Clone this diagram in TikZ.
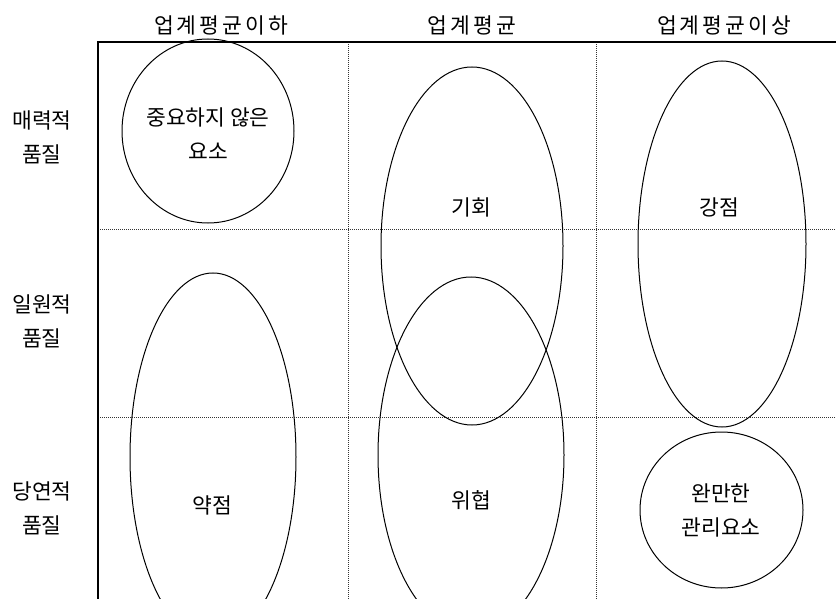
\documentclass[tikz,border=0pt]{standalone}
\usepackage{fontspec}
\setmainfont{Noto Sans CJK KR}
\newfontfamily\hdfont{Noto Sans CJK KR}[LetterSpace=14]
\begin{document}
\begin{tikzpicture}[x=1pt,y=-1pt,
  lbl/.style={font=\fontsize{21.5}{34}\selectfont, inner sep=0pt, align=center},
  hd/.style={font=\hdfont\fontsize{21.5}{34}\selectfont, inner sep=0pt, align=center},
  grid/.style={line width=0.7pt, dash pattern=on 1pt off 1pt, black!80},
  frame/.style={line width=1.3pt},
  oval/.style={line width=1pt}]
\useasboundingbox (0,0) rectangle (836,599);
\begin{scope}
\clip (0,0) rectangle (836,599);
% grid
\draw[grid] (98,229) -- (836,229);
\draw[grid] (98,417) -- (836,417);
\draw[grid] (348,42) -- (348,599);
\draw[grid] (596,42) -- (596,599);
\draw[frame] (98,599) -- (98,42) -- (836,42);
% ovals
\draw[oval] (208,131) ellipse [x radius=86, y radius=92];
\draw[oval] (472,246) ellipse [x radius=91, y radius=179];
\draw[oval] (722,244) ellipse [x radius=84, y radius=183];
\draw[oval] (213,457) ellipse [x radius=83, y radius=184];
\draw[oval] (471,455) ellipse [x radius=93, y radius=178];
\draw[oval] (721.5,510) ellipse [x radius=81.5, y radius=78];
\end{scope}
% headers
\node[hd] (h1) at (221,25) {업계평균이하};
\node[hd] (h2) at (472,25) {업계평균};
\node[hd] (h3) at (724,25) {업계평균이상};
% row labels
\node[lbl] (r1) at (42,137) {매력적\\품질};
\node[lbl] (r2) at (42,321) {일원적\\품질};
\node[lbl] (r3) at (42,508) {당연적\\품질};
% cell texts
\node[lbl] (t1) at (208,134) {중요하지 않은\\요소};
\node[lbl] (t2) at (471,207) {기회};
\node[lbl] (t3) at (719,207) {강점};
\node[lbl] (t4) at (212,505) {약점};
\node[lbl] (t5) at (471,500) {위협};
\node[lbl] (t6) at (721,510) {완만한\\관리요소};
\end{tikzpicture}
\end{document}
